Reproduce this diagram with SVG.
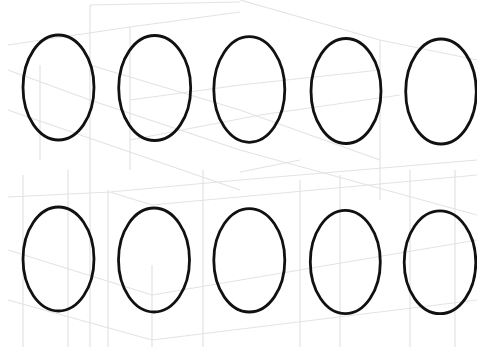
<svg xmlns="http://www.w3.org/2000/svg" width="477" height="347" viewBox="0 0 477 347">
<style>
.g{stroke:#e3e3e3;stroke-width:1.2;fill:none}
.o{fill:none;stroke:#111;stroke-width:2.8}
</style>
<rect width="477" height="347" fill="#fff"/>
<g id="grid">
<path class="g" d="M90 5 V347 M130 27 V170 M8 45 L130 27 L240 12 M90 5 L240 2 M8 70 L90 100 L240 150 L477 215 M8 110 L240 190 M40 65 V160 M90 65 L240 110 L380 160 M130 100 L240 85 L380 70 M130 140 L260 115 L400 95 M240 0 L380 40 L477 60 M380 40 V200"/>
<path class="g" d="M23 175 V347 M68 170 V347 M108 190 V347 M152 265 V347 M203 170 V347 M300 180 V347 M340 175 V347 M410 170 V347 M455 170 V347 M8 197 L110 192 L240 180 L477 160 M8 250 L152 295 M8 300 L152 340 M152 295 L477 240 M152 340 L477 300 M110 192 L152 205 L477 175 M240 172 L300 160"/>
</g>
<g id="n1"><ellipse class="o" cx="58.5" cy="87.5" rx="35.5" ry="52.5"/></g>
<g id="n2"><ellipse class="o" cx="154.7" cy="88" rx="36" ry="52.5"/></g>
<g id="n3"><ellipse class="o" cx="249.3" cy="89.5" rx="35.5" ry="52.8"/></g>
<g id="n4"><ellipse class="o" cx="346" cy="91" rx="35" ry="52.5"/></g>
<g id="n5"><ellipse class="o" cx="441" cy="91.5" rx="35.3" ry="52.5"/></g>
<g id="n6"><ellipse class="o" cx="58.5" cy="259" rx="35.5" ry="52"/></g>
<g id="n7"><ellipse class="o" cx="154" cy="260" rx="35.5" ry="52"/></g>
<g id="n8"><ellipse class="o" cx="249.3" cy="260.3" rx="35.5" ry="51.7"/></g>
<g id="n9"><ellipse class="o" cx="345.3" cy="262" rx="35" ry="51.7"/></g>
<g id="n10"><ellipse class="o" cx="440" cy="262.3" rx="35.8" ry="51.4"/></g>
<g id="connectors"></g>
</svg>
